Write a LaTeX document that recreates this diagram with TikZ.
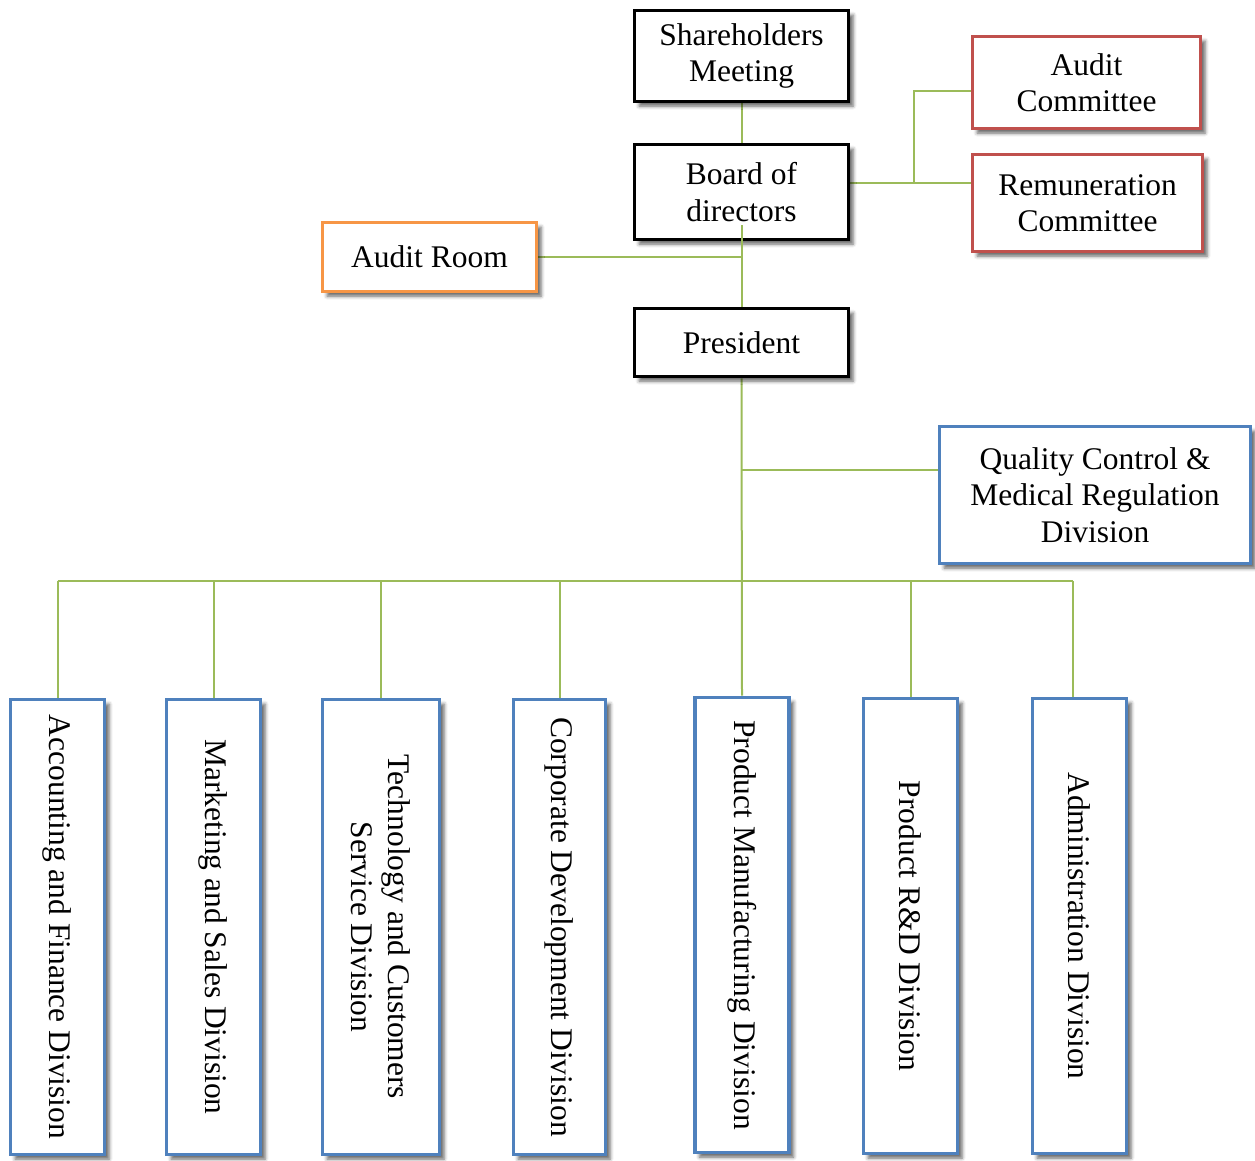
\documentclass[tikz,border=0pt]{standalone}
\usepackage{fontspec}
\setmainfont{Liberation Serif}
\usetikzlibrary{shadows.blur,backgrounds}

\definecolor{conngreen}{HTML}{9BBB59}
\definecolor{boxorange}{HTML}{F79646}
\definecolor{boxred}{HTML}{C0504D}
\definecolor{boxblue}{HTML}{4F81BD}

\tikzset{
  unit/.style={draw, fill=white, line width=3.6pt, inner sep=0pt, align=center,
    font=\fontsize{31.5}{36.5}\selectfont,
    blur shadow={shadow xshift=4.5pt, shadow yshift=-4.5pt, shadow blur radius=3.5pt, shadow opacity=60}},
  blackbox/.style={unit, draw=black},
  orangebox/.style={unit, draw=boxorange},
  redbox/.style={unit, draw=boxred},
  bluebox/.style={unit, draw=boxblue},
  divbox/.style={bluebox, rotate=-90, minimum width=455pt, minimum height=94pt},
  conn/.style={draw=conngreen, line width=2pt}
}

\begin{document}
\begin{tikzpicture}[x=1pt,y=-1pt]
  \useasboundingbox (0,0) rectangle (1255,1160);

  % governance boxes
  \node[blackbox, minimum width=214pt, minimum height=91pt] (sh) at (741.5,56) {Shareholders\\Meeting};
  \node[blackbox, minimum width=214pt, minimum height=95pt] (board) at (741.5,192) {Board of\\directors};
  \node[blackbox, minimum width=214pt, minimum height=68pt] (pres) at (741.5,342.5) {President};
  \node[orangebox, minimum width=214pt, minimum height=69pt] (aroom) at (429.5,257) {Audit Room};
  \node[redbox, minimum width=228pt, minimum height=92pt] (acom) at (1086.5,82.5) {Audit\\Committee};
  \node[redbox, minimum width=230pt, minimum height=97pt] (rcom) at (1087.5,203) {Remuneration\\Committee};
  \node[bluebox, minimum width=311pt, minimum height=137pt] (qc) at (1095,495) {Quality Control \&\\Medical Regulation\\Division};

  % divisions
  \node[divbox] (acc) at (57.5,927) {Accounting and Finance Division};
  \node[divbox] (mkt) at (213.5,927) {Marketing and Sales Division};
  \node[divbox, minimum height=117pt] (tech) at (381,927) {Technology and Customers\\Service Division};
  \node[divbox, minimum height=92pt] (corp) at (559.5,927) {Corporate Development Division};
  \node[divbox] (pm) at (742,925) {Product Manufacturing Division};
  \node[divbox] (rd) at (910.5,926) {Product R\&D Division};
  \node[divbox] (adm) at (1079.5,926) {Administration Division};

  % junction points
  \coordinate (j1) at (914,91);
  \coordinate (j2) at (914,183);
  \coordinate (qj) at (741,470);
  \coordinate (bus) at (741,581);

  \begin{scope}[on background layer]
    \draw[conn] (sh.south) -- (board.north);
    \draw[conn] (board.east |- j2) -- (j2) -- (j1) -- (acom.west |- j1);
    \draw[conn] (j2) -- (rcom.west |- j2);
    \draw[conn] (aroom.east) -- (aroom.east -| pres.north);
    \draw[conn] (pres.south) -- (pm.west);
    \draw[conn] (qj) -- (qc.west |- qj);
    \draw[conn] (acc.west |- bus) -- ([xshift=-7pt]adm.west |- bus);
    \draw[conn] (acc.west |- bus) -- (acc.west);
    \draw[conn] (mkt.west |- bus) -- (mkt.west);
    \draw[conn] (tech.west |- bus) -- (tech.west);
    \draw[conn] (corp.west |- bus) -- (corp.west);
    \draw[conn] (rd.west |- bus) -- (rd.west);
    \draw[conn] ([xshift=-7pt]adm.west |- bus) -- ([xshift=-7pt]adm.west);
  \end{scope}

  % link from the board down to the president, starting inside the board box
  \draw[conn] ([yshift=16pt]board.south) -- (pres.north);
\end{tikzpicture}
\end{document}
